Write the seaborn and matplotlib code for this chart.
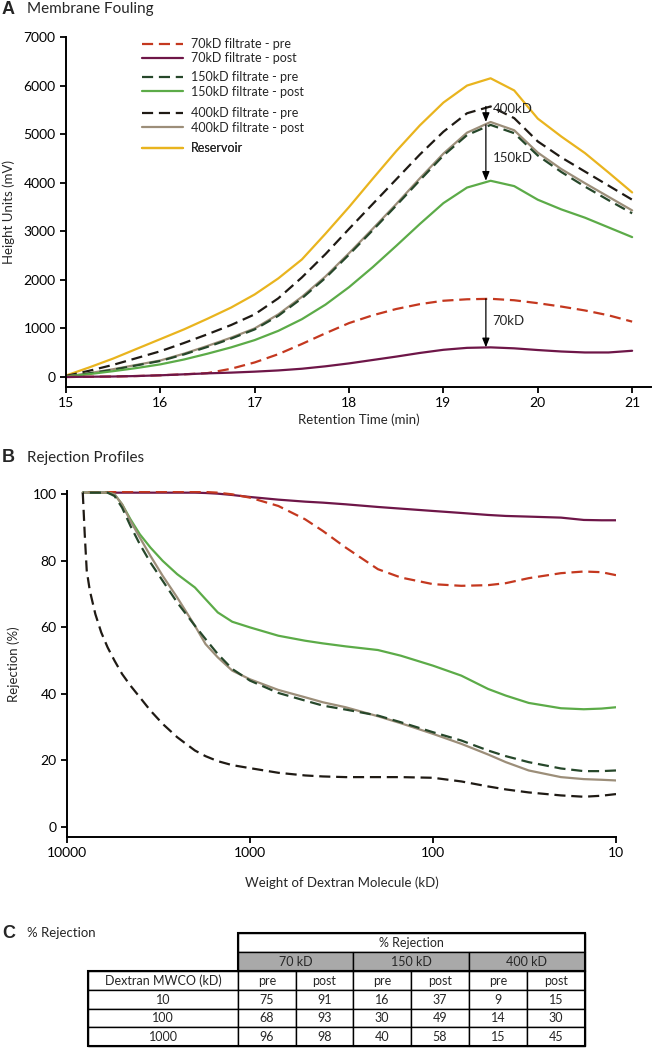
import numpy as np
import pandas as pd
import seaborn as sns
import matplotlib.pyplot as plt
from matplotlib.lines import Line2D
from matplotlib.patches import Rectangle

# ---- panel A: chromatograms (height units, mV) ----
time_min = [15, 15.25, 15.5, 15.75, 16, 16.25, 16.5, 16.75, 17, 17.25, 17.5, 17.75, 18,
            18.25, 18.5, 18.75, 19, 19.25, 19.5, 19.75, 20, 20.25, 20.5, 20.75, 21]
a70_pre = [0, 5, 10, 20, 35, 55, 80, 170, 300, 470, 680, 900, 1110,
           1270, 1400, 1500, 1570, 1600, 1610, 1580, 1520, 1450, 1370, 1270, 1140]
a70_post = [0, 5, 10, 20, 35, 55, 75, 90, 110, 135, 170, 220, 280,
            350, 420, 495, 560, 600, 610, 590, 555, 525, 505, 505, 540]
a150_pre = [10, 75, 150, 240, 330, 465, 620, 790, 980, 1260, 1620, 2040, 2520,
            3020, 3530, 4050, 4560, 4980, 5190, 5020, 4560, 4220, 3920, 3640, 3370]
a150_post = [10, 60, 120, 185, 260, 360, 480, 610, 760, 950, 1190, 1490, 1850,
             2260, 2700, 3150, 3580, 3900, 4040, 3930, 3650, 3450, 3280, 3080, 2880]
a400_pre = [20, 130, 250, 390, 530, 700, 880, 1070, 1290, 1620, 2050, 2530, 3050,
            3560, 4070, 4580, 5050, 5430, 5570, 5330, 4850, 4520, 4230, 3940, 3650]
a400_post = [10, 80, 160, 250, 340, 480, 640, 810, 1000, 1290, 1650, 2070, 2550,
             3050, 3560, 4090, 4600, 5030, 5250, 5080, 4620, 4280, 3990, 3710, 3430]
reservoir = [30, 200, 380, 580, 780, 980, 1200, 1430, 1700, 2030, 2420, 2950, 3500,
             4080, 4650, 5180, 5650, 6000, 6150, 5900, 5320, 4950, 4610, 4210, 3800]

# ---- panel B: rejection profiles (%) vs dextran weight (kD) ----
w_b = [8200, 7000, 6000, 5500, 5000, 4500, 4000, 3500, 3000, 2500, 2000, 1750, 1500, 1250, 1000,
       700, 500, 400, 300, 200, 150, 100, 70, 50, 40, 30, 20, 15, 12, 10]
b70_pre = [100.8, 100.8, 100.8, 100.8, 100.8, 100.8, 100.8, 100.8, 100.8, 100.8, 100.8, 100.7, 100.5, 100, 99,
           96.5, 92.5, 89, 84, 77.5, 75, 73, 72.5, 72.7, 73.3, 74.8, 76.3, 76.8, 76.6, 75.7]
b70_post = [100.5, 100.5, 100.5, 100.5, 100.5, 100.5, 100.5, 100.5, 100.5, 100.5, 100.5, 100.4, 100.2, 99.8, 99.2,
            98.4, 97.8, 97.5, 97, 96.2, 95.7, 95, 94.4, 93.8, 93.5, 93.3, 93, 92.3, 92.2, 92.2]
b150_pre = [100.5, 100.5, 100.5, 99.5, 96, 90.5, 85, 79.5, 74, 67.5, 60.5, 56.5, 52, 47.5, 44,
            40.3, 38, 36.5, 35.3, 33.5, 31.5, 28.5, 26, 23, 21.3, 19.5, 17.6, 16.8, 16.8, 17]
b150_post = [100.5, 100.5, 100.5, 100, 97, 92.5, 88, 84, 80, 76, 72, 68.5, 64.5, 61.7, 60,
             57.5, 56, 55.2, 54.3, 53.2, 51.5, 48.5, 45.5, 41.5, 39.5, 37.3, 35.7, 35.4, 35.6, 36]
b400_post = [100.5, 100.5, 100.5, 100, 97, 92, 87, 81.5, 75.5, 69, 60.5, 55, 51, 47, 44.4,
             41.2, 39, 37.5, 36, 33.3, 31.2, 28, 25, 21.8, 19.5, 17, 15, 14.4, 14.2, 14]
w_b400_pre = [8200, 8000, 7800, 7500, 7000, 6500, 6000, 5500, 5000, 4500, 4000, 3500, 3000, 2500, 2000,
              1750, 1500, 1250, 1000, 700, 500, 400, 300, 200, 150, 100, 70, 50, 40, 30, 20, 15, 12, 10]
b400_pre = [100.5, 88, 77, 71, 64, 58.5, 54, 50, 46, 42.5, 39, 35, 31, 27, 23,
            21.3, 19.8, 18.6, 17.7, 16.3, 15.5, 15.2, 15, 15, 15, 14.8, 13.7, 12.2, 11.3, 10.4, 9.5, 9.1, 9.4, 9.9]
b_ticks = [10000, 1000, 100, 10]

# ---- panel C: table ----
mwco = ["10", "100", "1000"]
membranes = ["70 kD", "150 kD", "400 kD"]
rej70_pre = [75, 68, 96]
rej70_post = [91, 93, 98]
rej150_pre = [16, 30, 40]
rej150_post = [37, 49, 58]
rej400_pre = [9, 14, 15]
rej400_post = [15, 30, 45]

labels = ["70kD filtrate - pre", "70kD filtrate - post", "150kD filtrate - pre",
          "150kD filtrate - post", "400kD filtrate - pre", "400kD filtrate - post", "Reservoir"]
colors = ["#c4381f", "#6e1648", "#26472a", "#5cab48", "#1f1a14", "#9c8e79", "#e9b41e"]
dashed = [True, False, True, False, True, False, False]

sns.set_theme(style="ticks")
plt.rcParams["font.family"] = ["Lato", "DejaVu Sans"]
plt.rcParams["axes.linewidth"] = 1.4
plt.rcParams["xtick.major.width"] = 1.3
plt.rcParams["ytick.major.width"] = 1.3
plt.rcParams["xtick.major.size"] = 4
plt.rcParams["ytick.major.size"] = 4
plt.rcParams["xtick.labelsize"] = 10
plt.rcParams["ytick.labelsize"] = 10
plt.rcParams["xtick.color"] = "black"
plt.rcParams["ytick.color"] = "black"
plt.rcParams["axes.edgecolor"] = "black"

W, H = 654, 1048
fig = plt.figure(figsize=(W / 100, H / 100), dpi=100)


def px_axes(l, t, r, b):
    return fig.add_axes([l / W, 1 - b / H, (r - l) / W, (b - t) / H])


def style(i):
    return (0, (5, 2.6)) if dashed[i] else "-"


# panel A
axA = px_axes(66, 37, 651, 387)
series_a = [a70_pre, a70_post, a150_pre, a150_post, a400_pre, a400_post, reservoir]
for i in [6, 4, 5, 2, 3, 0, 1]:
    sns.lineplot(x=time_min, y=series_a[i], ax=axA, color=colors[i], linestyle=style(i),
                 linewidth=1.6, legend=False)
axA.set_xlim(15, 21.2)
axA.set_ylim(-206, 7000)
axA.set_xticks([15, 16, 17, 18, 19, 20, 21])
axA.set_yticks([0, 1000, 2000, 3000, 4000, 5000, 6000, 7000])
axA.set_xlabel("Retention Time (min)", fontsize=9.5, labelpad=3)
axA.set_ylabel("Height Units (mV)", fontsize=9.5, labelpad=6)
sns.despine(ax=axA)

pk = time_min.index(19.5)
arrows = [(a400_pre[pk], a400_post[pk], "400kD", 5520),
          (a150_pre[pk], a150_post[pk], "150kD", 4500),
          (a70_pre[pk], a70_post[pk], "70kD", 1150)]
for top, bot, txt, ty in arrows:
    axA.annotate("", xy=(19.45, bot), xytext=(19.45, top),
                 arrowprops=dict(arrowstyle="-|>,head_length=0.45,head_width=0.18",
                                 color="black", lw=0.9, shrinkA=0, shrinkB=0))
    axA.text(19.52, ty, txt, fontsize=9.5, va="center", ha="left")

# legend for A, in groups
handles = [Line2D([], [], color=colors[i], linestyle=style(i), linewidth=1.6) for i in range(7)]
groups = [([0, 1], 38), ([2, 3], 71), ([4, 5], 107), ([6], 142)]
for idx, top in groups:
    lg = axA.legend([handles[i] for i in idx], [labels[i] for i in idx], loc="upper left",
                    bbox_to_anchor=(142 / W, 1 - top / H), bbox_transform=fig.transFigure,
                    frameon=False, fontsize=9, handlelength=3.3, handletextpad=0.6,
                    labelspacing=0.2, borderpad=0, borderaxespad=0)
    axA.add_artist(lg)

# panel B
axB = px_axes(67, 491, 616, 837)
series_b = [b70_pre, b70_post, b150_pre, b150_post, b400_pre, b400_post]
for i in [1, 0, 3, 5, 2, 4]:
    xs = w_b400_pre if i == 4 else w_b
    sns.lineplot(x=xs, y=series_b[i], ax=axB, color=colors[i], linestyle=style(i),
                 linewidth=1.6, legend=False)
axB.set_xscale("log")
axB.set_xlim(10000, 10)
axB.set_ylim(-3, 101)
axB.set_xticks(b_ticks)
axB.set_xticklabels([str(t) for t in b_ticks])
axB.xaxis.set_minor_locator(plt.NullLocator())
axB.set_yticks([0, 20, 40, 60, 80, 100])
axB.set_xlabel("Weight of Dextran Molecule (kD)", fontsize=9.5, labelpad=12)
axB.set_ylabel("Rejection (%)", fontsize=9.5, labelpad=9)
sns.despine(ax=axB)

# overlay for panel titles and the table
ov = fig.add_axes([0, 0, 1, 1])
ov.set_xlim(0, W)
ov.set_ylim(H, 0)
ov.axis("off")
for letter, title, y, fs in [("A", "Membrane Fouling", 9, 11), ("B", "Rejection Profiles", 458, 11),
                             ("C", "% Rejection", 933, 9.5)]:
    ov.text(2, y, letter, fontsize=13, fontweight="bold", va="center", ha="left",
            family=["Liberation Sans", "DejaVu Sans"])
    ov.text(27, y, title, fontsize=fs, va="center", ha="left")

cx = [88, 238, 296, 353, 411, 469, 527, 585]
ry = [933, 952, 971, 990, 1009, 1027, 1046]


def cell(x0, x1, y0, y1, txt, face="white"):
    ov.add_patch(Rectangle((x0, y0), x1 - x0, y1 - y0, facecolor=face, edgecolor="black", lw=1.0))
    ov.text((x0 + x1) / 2, (y0 + y1) / 2 + 0.5, txt, fontsize=9, ha="center", va="center")


cell(cx[1], cx[7], ry[0], ry[1], "% Rejection")
for k, m in enumerate(membranes):
    cell(cx[1 + 2 * k], cx[3 + 2 * k], ry[1], ry[2], m, face="#a9a9a9")
cell(cx[0], cx[1], ry[2], ry[3], "Dextran MWCO (kD)")
for k in range(6):
    cell(cx[1 + k], cx[2 + k], ry[2], ry[3], ["pre", "post"][k % 2])
table_cols = [rej70_pre, rej70_post, rej150_pre, rej150_post, rej400_pre, rej400_post]
for r, m in enumerate(mwco):
    cell(cx[0], cx[1], ry[3 + r], ry[4 + r], m)
    for k, col in enumerate(table_cols):
        cell(cx[1 + k], cx[2 + k], ry[3 + r], ry[4 + r], str(col[r]))
ov.add_patch(Rectangle((cx[1], ry[0]), cx[7] - cx[1], ry[2] - ry[0], fill=False, edgecolor="black", lw=1.5))
ov.add_patch(Rectangle((cx[0], ry[2]), cx[7] - cx[0], ry[6] - ry[2], fill=False, edgecolor="black", lw=1.5))

fig.savefig("out.png", dpi=100)
